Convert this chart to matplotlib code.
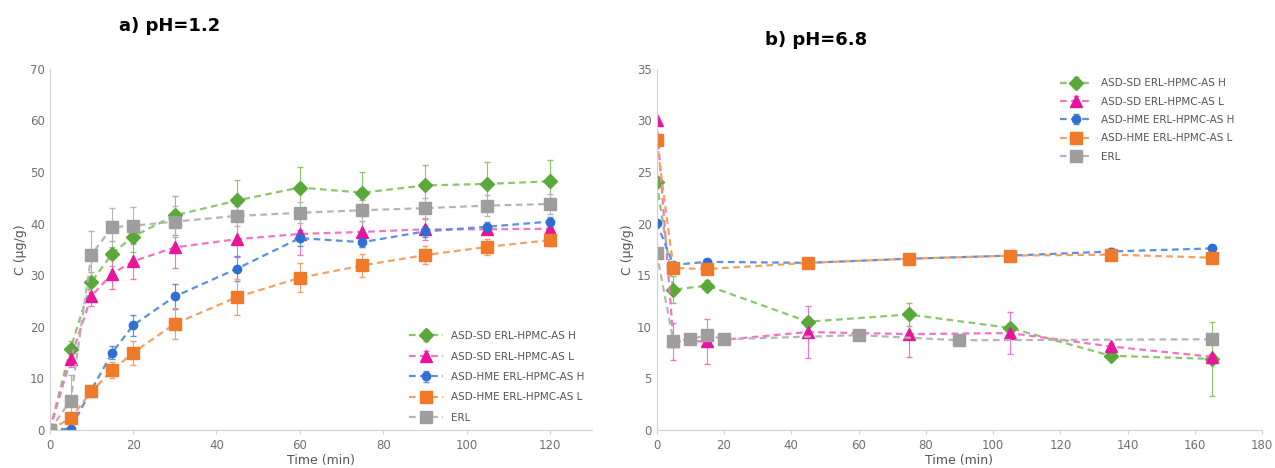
import matplotlib.pyplot as plt
import numpy as np

# ---- panel a) pH=1.2 ----
t_a = [0, 5, 10, 15, 20, 30, 45, 60, 75, 90, 105, 120]
sd_h_a = [0, 15.8, 28.7, 34.2, 37.5, 41.6, 44.5, 47.0, 46.0, 47.4, 47.7, 48.2]
sd_h_a_err = [0, 1.5, 2.0, 2.5, 3.0, 3.8, 4.0, 4.0, 4.0, 4.0, 4.2, 4.2]
sd_l_a = [0, 13.8, 26.0, 30.3, 32.7, 35.4, 37.0, 38.0, 38.4, 38.9, 38.9, 39.0]
sd_l_a_err = [0, 1.5, 2.0, 3.0, 3.5, 4.0, 3.5, 4.0, 3.0, 2.0, 1.0, 1.0]
hme_h_a = [0, 0.3, 7.8, 15.0, 20.3, 25.9, 31.3, 37.2, 36.4, 38.5, 39.4, 40.4]
hme_h_a_err = [0, 0.3, 0.8, 1.3, 2.0, 2.5, 2.5, 1.5, 1.0, 1.0, 1.0, 0.8]
hme_l_a = [0, 2.3, 7.5, 11.6, 15.0, 20.6, 25.8, 29.5, 31.9, 33.9, 35.5, 36.8]
hme_l_a_err = [0, 0.5, 1.0, 1.5, 2.3, 3.0, 3.5, 2.8, 2.3, 1.8, 1.5, 1.2]
erl_a = [0, 5.7, 34.0, 39.3, 39.6, 40.4, 41.5, 42.1, 42.6, 43.0, 43.5, 43.8]
erl_a_err = [0, 5.0, 4.5, 3.8, 3.6, 3.0, 2.0, 2.0, 2.0, 2.0, 2.0, 2.0]

# ---- panel b) pH=6.8 ----
t_b = [0, 5, 15, 45, 75, 105, 135, 165]
sd_h_b = [24.0, 13.6, 14.0, 10.5, 11.2, 9.9, 7.2, 6.9]
sd_h_b_err = [0, 1.3, 0.5, 0.5, 1.1, 0.5, 0.3, 3.6]
sd_l_b = [30.0, 8.6, 8.6, 9.5, 9.3, 9.4, 8.1, 7.1]
sd_l_b_err = [0, 1.8, 2.2, 2.5, 2.2, 2.0, 0.3, 0.3]
hme_h_b = [20.1, 16.0, 16.3, 16.2, 16.6, 16.9, 17.3, 17.6]
hme_h_b_err = [0, 0.3, 0.3, 0.3, 0.3, 0.3, 0.3, 0.3]
hme_l_b = [28.1, 15.7, 15.6, 16.2, 16.6, 16.9, 17.0, 16.7]
hme_l_b_err = [0, 0.4, 0.4, 0.4, 0.4, 0.4, 0.4, 0.4]
t_erl_b = [0, 5, 10, 15, 20, 60, 90, 165]
erl_b = [17.2, 8.6, 8.8, 9.2, 8.8, 9.2, 8.7, 8.8]

labels = ["ASD-SD ERL-HPMC-AS H", "ASD-SD ERL-HPMC-AS L",
          "ASD-HME ERL-HPMC-AS H", "ASD-HME ERL-HPMC-AS L", "ERL"]
colors = ["#5aa83a", "#e8159c", "#2e6fcf", "#ef7a2a", "#9e9e9e"]
line_colors = ["#8cc66a", "#f572c6", "#5b8fe0", "#f4a064", "#b5b5b5"]
markers = ["D", "^", "o", "s", "s"]
msizes = [7, 9, 6, 9, 9]

fig = plt.figure(figsize=(12.75, 4.68), dpi=100)
ax1 = fig.add_axes([0.039, 0.081, 0.425, 0.772])
ax2 = fig.add_axes([0.515, 0.081, 0.475, 0.772])


def series(ax, x, y, err, i):
    ax.errorbar(x, y, yerr=err, color=line_colors[i], ls=(0, (3, 2)), lw=1.6,
                marker=markers[i], ms=msizes[i], mfc=colors[i], mec=colors[i],
                elinewidth=0.8, capsize=2, ecolor=line_colors[i], label=labels[i])


data_a = [(sd_h_a, sd_h_a_err), (sd_l_a, sd_l_a_err), (hme_h_a, hme_h_a_err),
          (hme_l_a, hme_l_a_err), (erl_a, erl_a_err)]
for i, (y, e) in enumerate(data_a):
    series(ax1, t_a, y, e, i)

data_b = [(t_b, sd_h_b, sd_h_b_err), (t_b, sd_l_b, sd_l_b_err),
          (t_b, hme_h_b, hme_h_b_err), (t_b, hme_l_b, hme_l_b_err),
          (t_erl_b, erl_b, None)]
for i, (x, y, e) in enumerate(data_b):
    series(ax2, x, y, e, i)

ax1.set_xlim(0, 130)
ax1.set_ylim(0, 70)
ax1.set_xticks(range(0, 121, 20))
ax1.set_yticks(range(0, 71, 10))
ax2.set_xlim(0, 180)
ax2.set_ylim(0, 35)
ax2.set_xticks(range(0, 181, 20))
ax2.set_yticks(range(0, 36, 5))

for ax in (ax1, ax2):
    for s in ("top", "right"):
        ax.spines[s].set_visible(False)
    for s in ("left", "bottom"):
        ax.spines[s].set_color("#d0d0d0")
    ax.tick_params(axis="both", labelsize=8.5, labelcolor="#707070")
    ax.tick_params(axis="x", direction="out", length=3, color="#d0d0d0")
    ax.tick_params(axis="y", length=0)
    ax.set_xlabel("Time (min)", color="#555555", fontsize=9, labelpad=1)
    ax.set_ylabel("C (µg/g)", color="#555555", fontsize=9, labelpad=2)

ax1.legend(loc="lower right", bbox_to_anchor=(1.0, 0.0), frameon=False,
           fontsize=7.5, labelcolor="#555555", handlelength=3.2,
           labelspacing=1.0, borderaxespad=0.3)
ax2.legend(loc="upper right", bbox_to_anchor=(0.97, 1.0), frameon=False,
           fontsize=7.5, labelcolor="#555555", handlelength=3.2,
           labelspacing=0.8, borderaxespad=0.5)

fig.text(0.133, 0.945, "a) pH=1.2", fontsize=13, fontweight="bold", ha="center", va="center")
fig.text(0.64, 0.915, "b) pH=6.8", fontsize=13, fontweight="bold", ha="center", va="center")

fig.savefig("out.png", dpi=100)
